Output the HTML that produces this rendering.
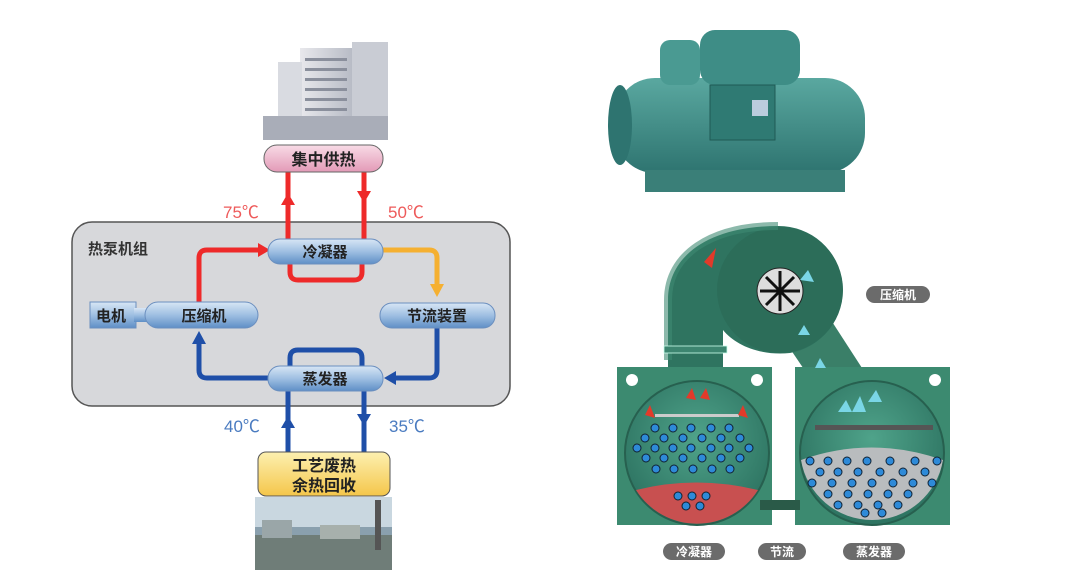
<!DOCTYPE html>
<html><head><meta charset="utf-8"><style>
body{margin:0;background:#fff;width:1080px;height:578px;overflow:hidden;font-family:"Liberation Sans","Noto Sans CJK SC",sans-serif}
svg{position:absolute;left:0;top:0}
</style></head><body>
<svg width="1080" height="578" viewBox="0 0 1080 578" font-family="Liberation Sans, Noto Sans CJK SC, sans-serif">
<defs>
<linearGradient id="pill" x1="0" y1="0" x2="0" y2="1"><stop offset="0" stop-color="#d8e6f5"/><stop offset="0.5" stop-color="#9fbfe2"/><stop offset="1" stop-color="#5f8fc6"/></linearGradient>
<linearGradient id="pink" x1="0" y1="0" x2="0" y2="1"><stop offset="0" stop-color="#f8dbe6"/><stop offset="1" stop-color="#e39ab7"/></linearGradient>
<linearGradient id="yel" x1="0" y1="0" x2="0" y2="1"><stop offset="0" stop-color="#fdf0b0"/><stop offset="1" stop-color="#f4c64a"/></linearGradient>
<linearGradient id="green" x1="0" y1="0" x2="1" y2="1"><stop offset="0" stop-color="#3d8a6e"/><stop offset="1" stop-color="#2a6a56"/></linearGradient>
<radialGradient id="inner" cx="0.5" cy="0.4" r="0.6"><stop offset="0" stop-color="#4fa38a"/><stop offset="1" stop-color="#2d7361"/></radialGradient>
<linearGradient id="bldg" x1="0" y1="0" x2="1" y2="0"><stop offset="0" stop-color="#e8e8ec"/><stop offset="1" stop-color="#b8bcc6"/></linearGradient>
<linearGradient id="chill" x1="0" y1="0" x2="0" y2="1"><stop offset="0" stop-color="#5aa8a0"/><stop offset="1" stop-color="#2e7470"/></linearGradient>
</defs>

<!-- building -->
<rect x="300" y="48" width="52" height="90" fill="url(#bldg)"/>
<rect x="352" y="42" width="36" height="96" fill="#c9ccd4"/>
<rect x="278" y="62" width="24" height="76" fill="#d9dbe1"/>
<rect x="263" y="116" width="125" height="24" fill="#a9adb8"/>
<g fill="#8a8f9c"><rect x="305" y="58" width="42" height="3"/><rect x="305" y="68" width="42" height="3"/><rect x="305" y="78" width="42" height="3"/><rect x="305" y="88" width="42" height="3"/><rect x="305" y="98" width="42" height="3"/><rect x="305" y="108" width="42" height="3"/></g>

<!-- gray box -->
<rect x="72" y="222" width="438" height="184" rx="20" fill="#d7d8db" stroke="#555" stroke-width="1.5"/>
<text x="88" y="254" font-size="15" font-weight="bold" fill="#333">热泵机组</text>

<g fill="none" stroke="#ee2a2a" stroke-width="5">
<path d="M288 172V248"/><path d="M364 172V248"/>
<path d="M290 262V272q0 8 8 8h56q8 0 8-8V262"/>
<path d="M199 304V258q0-8 8-8h54"/>
</g>
<polygon points="281,205 295,205 288,193" fill="#ee2a2a"/>
<polygon points="357,191 371,191 364,203" fill="#ee2a2a"/>
<polygon points="258,243 258,257 270,250" fill="#ee2a2a"/>
<path d="M383 250h46q8 0 8 8v28" fill="none" stroke="#f5b031" stroke-width="5"/>
<polygon points="430,284 444,284 437,297" fill="#f5b031"/>
<g fill="none" stroke="#1f4fa8" stroke-width="5">
<path d="M437 328v42q0 8-8 8h-38"/>
<path d="M268 378h-61q-8 0-8-8v-30"/>
<path d="M290 368v-10q0-8 8-8h56q8 0 8 8v10"/>
<path d="M288 391V452"/><path d="M364 391V452"/>
</g>
<polygon points="396,371 396,385 384,378" fill="#1f4fa8"/>
<polygon points="192,344 206,344 199,331" fill="#1f4fa8"/>
<polygon points="281,428 295,428 288,416" fill="#1f4fa8"/>
<polygon points="357,414 371,414 364,426" fill="#1f4fa8"/>

<g font-size="17" fill="#ee5a5a"><text x="223" y="218">75℃</text><text x="388" y="218">50℃</text></g>
<g font-size="17" fill="#4a7bc0"><text x="224" y="432">40℃</text><text x="389" y="432">35℃</text></g>

<rect x="264" y="145" width="119" height="27" rx="13" fill="url(#pink)" stroke="#666"/>
<text x="323.5" y="165" font-size="16" font-weight="bold" text-anchor="middle" fill="#222">集中供热</text>
<rect x="268" y="239" width="115" height="25" rx="12" fill="url(#pill)" stroke="#6b8fbf"/>
<text x="325" y="257" font-size="15" font-weight="bold" text-anchor="middle" fill="#222">冷凝器</text>
<rect x="380" y="303" width="115" height="25" rx="12" fill="url(#pill)" stroke="#6b8fbf"/>
<text x="437" y="321" font-size="15" font-weight="bold" text-anchor="middle" fill="#222">节流装置</text>
<rect x="90" y="302" width="46" height="26" fill="url(#pill)" stroke="#6b8fbf"/>
<rect x="134" y="308" width="14" height="14" fill="url(#pill)"/>
<text x="111" y="321" font-size="15" font-weight="bold" text-anchor="middle" fill="#222">电机</text>
<rect x="145" y="302" width="113" height="26" rx="13" fill="url(#pill)" stroke="#6b8fbf"/>
<text x="204" y="321" font-size="15" font-weight="bold" text-anchor="middle" fill="#222">压缩机</text>
<rect x="268" y="366" width="115" height="25" rx="12" fill="url(#pill)" stroke="#6b8fbf"/>
<text x="325" y="384" font-size="15" font-weight="bold" text-anchor="middle" fill="#222">蒸发器</text>

<rect x="258" y="452" width="132" height="44" rx="8" fill="url(#yel)" stroke="#555"/>
<text x="324" y="471" font-size="16" font-weight="bold" text-anchor="middle" fill="#222">工艺废热</text>
<text x="324" y="491" font-size="16" font-weight="bold" text-anchor="middle" fill="#222">余热回收</text>
<rect x="255" y="497" width="137" height="73" fill="#8aa0ae"/>
<rect x="255" y="497" width="137" height="30" fill="#c9d7e0"/>
<rect x="255" y="535" width="137" height="35" fill="#6f7d78"/>
<rect x="375" y="500" width="6" height="50" fill="#555"/>
<rect x="262" y="520" width="30" height="18" fill="#9aa6a8"/>
<rect x="320" y="525" width="40" height="14" fill="#a7b0ac"/>

<!-- chiller photo -->
<rect x="615" y="78" width="250" height="95" rx="40" fill="url(#chill)"/>
<rect x="645" y="170" width="200" height="22" fill="#3a7f78"/>
<rect x="700" y="30" width="100" height="55" rx="15" fill="#3e8d86"/>
<rect x="660" y="40" width="40" height="45" rx="10" fill="#4a9a92"/>
<ellipse cx="620" cy="125" rx="12" ry="40" fill="#2e7470"/>
<rect x="710" y="85" width="65" height="55" fill="#2f7a73" stroke="#1f5a55"/>
<rect x="752" y="100" width="16" height="16" fill="#bcd"/>

<!-- cutaway: volute -->
<polygon points="772,322 818,300 862,368 818,390" fill="#3a7f68"/>
<path d="M668 367V300C668 255 710 226 778 226A64 64 0 0 1 790 353C760 356 735 345 723 330V367z" fill="#2f7460"/>
<circle cx="780" cy="290" r="63" fill="#2c6d59"/>
<path d="M668 360V300C668 255 710 226 778 226" fill="none" stroke="#3f8a73" stroke-width="8" opacity="0.6"/>
<rect x="664" y="346" width="63" height="7" fill="#3d8570" stroke="#cfe" stroke-width="0.8"/>
<circle cx="780" cy="291" r="23" fill="#ddd" stroke="#222"/>
<g stroke="#111" stroke-width="3"><line x1="760" y1="291" x2="800" y2="291"/><line x1="780" y1="271" x2="780" y2="311"/><line x1="766" y1="277" x2="794" y2="305"/><line x1="794" y1="277" x2="766" y2="305"/></g>
<rect x="617" y="367" width="155" height="158" fill="#3c8a70"/>
<rect x="795" y="367" width="155" height="158" fill="#3c8a70"/>
<circle cx="632" cy="380" r="6" fill="#fff"/><circle cx="757" cy="380" r="6" fill="#fff"/><circle cx="935" cy="380" r="6" fill="#fff"/>
<circle cx="697" cy="453" r="72" fill="url(#inner)" stroke="#27604f" stroke-width="2"/>
<path d="M636 490q60-15 122 0a72 72 0 0 1-122 0z" fill="#c85050"/>
<circle cx="872" cy="453" r="72" fill="url(#inner)" stroke="#27604f" stroke-width="2"/>
<path d="M801 460q70-25 142 0a72 72 0 0 1-142 0z" fill="#b9bcbe"/>
<rect x="815" y="425" width="118" height="5" fill="#555"/>
<rect x="655" y="414" width="84" height="3" fill="#ccc"/>
<rect x="760" y="500" width="40" height="10" fill="#2a5a48"/>
<g fill="#2e8ad8" stroke="#123" stroke-width="1">
<circle cx="655" cy="428" r="4"/><circle cx="673" cy="428" r="4"/><circle cx="691" cy="428" r="4"/><circle cx="711" cy="428" r="4"/><circle cx="729" cy="428" r="4"/>
<circle cx="645" cy="438" r="4"/><circle cx="664" cy="438" r="4"/><circle cx="683" cy="438" r="4"/><circle cx="702" cy="438" r="4"/><circle cx="721" cy="438" r="4"/><circle cx="740" cy="438" r="4"/>
<circle cx="637" cy="448" r="4"/><circle cx="655" cy="448" r="4"/><circle cx="673" cy="448" r="4"/><circle cx="691" cy="448" r="4"/><circle cx="711" cy="448" r="4"/><circle cx="729" cy="448" r="4"/><circle cx="749" cy="448" r="4"/>
<circle cx="646" cy="458" r="4"/><circle cx="664" cy="458" r="4"/><circle cx="683" cy="458" r="4"/><circle cx="702" cy="458" r="4"/><circle cx="721" cy="458" r="4"/><circle cx="740" cy="458" r="4"/>
<circle cx="656" cy="469" r="4"/><circle cx="674" cy="469" r="4"/><circle cx="693" cy="469" r="4"/><circle cx="712" cy="469" r="4"/><circle cx="730" cy="469" r="4"/>
<circle cx="678" cy="496" r="4"/><circle cx="692" cy="496" r="4"/><circle cx="706" cy="496" r="4"/><circle cx="686" cy="506" r="4"/><circle cx="700" cy="506" r="4"/>
<circle cx="810" cy="461" r="4"/><circle cx="828" cy="461" r="4"/><circle cx="847" cy="461" r="4"/><circle cx="867" cy="461" r="4"/><circle cx="890" cy="461" r="4"/><circle cx="915" cy="461" r="4"/><circle cx="937" cy="461" r="4"/>
<circle cx="820" cy="472" r="4"/><circle cx="838" cy="472" r="4"/><circle cx="858" cy="472" r="4"/><circle cx="880" cy="472" r="4"/><circle cx="903" cy="472" r="4"/><circle cx="925" cy="472" r="4"/>
<circle cx="812" cy="483" r="4"/><circle cx="832" cy="483" r="4"/><circle cx="852" cy="483" r="4"/><circle cx="872" cy="483" r="4"/><circle cx="893" cy="483" r="4"/><circle cx="913" cy="483" r="4"/><circle cx="932" cy="483" r="4"/>
<circle cx="828" cy="494" r="4"/><circle cx="848" cy="494" r="4"/><circle cx="868" cy="494" r="4"/><circle cx="888" cy="494" r="4"/><circle cx="908" cy="494" r="4"/>
<circle cx="838" cy="505" r="4"/><circle cx="858" cy="505" r="4"/><circle cx="878" cy="505" r="4"/><circle cx="898" cy="505" r="4"/><circle cx="865" cy="513" r="4"/><circle cx="882" cy="513" r="4"/>
</g>
<g fill="#7ad6e6"><polygon points="838,412 846,400 852,412"/><polygon points="852,412 860,396 866,412"/><polygon points="868,402 876,390 882,402"/><polygon points="798,335 804,325 810,335"/><polygon points="815,368 820,358 826,368"/><polygon points="800,280 808,270 814,282"/></g>
<g fill="#e23a2a"><polygon points="704,262 716,248 712,268"/><polygon points="686,398 692,388 696,400"/><polygon points="700,398 706,388 710,400"/><polygon points="645,415 650,405 655,418"/><polygon points="738,415 743,405 748,418"/></g>

<g font-size="12" font-weight="bold" fill="#fff" text-anchor="middle">
<rect x="866" y="286" width="64" height="17" rx="8.5" fill="#6b6b6b"/><text x="898" y="299">压缩机</text>
<rect x="663" y="543" width="62" height="17" rx="8.5" fill="#6b6b6b"/><text x="694" y="556">冷凝器</text>
<rect x="758" y="543" width="48" height="17" rx="8.5" fill="#6b6b6b"/><text x="782" y="556">节流</text>
<rect x="843" y="543" width="62" height="17" rx="8.5" fill="#6b6b6b"/><text x="874" y="556">蒸发器</text>
</g>
</svg>
</body></html>
